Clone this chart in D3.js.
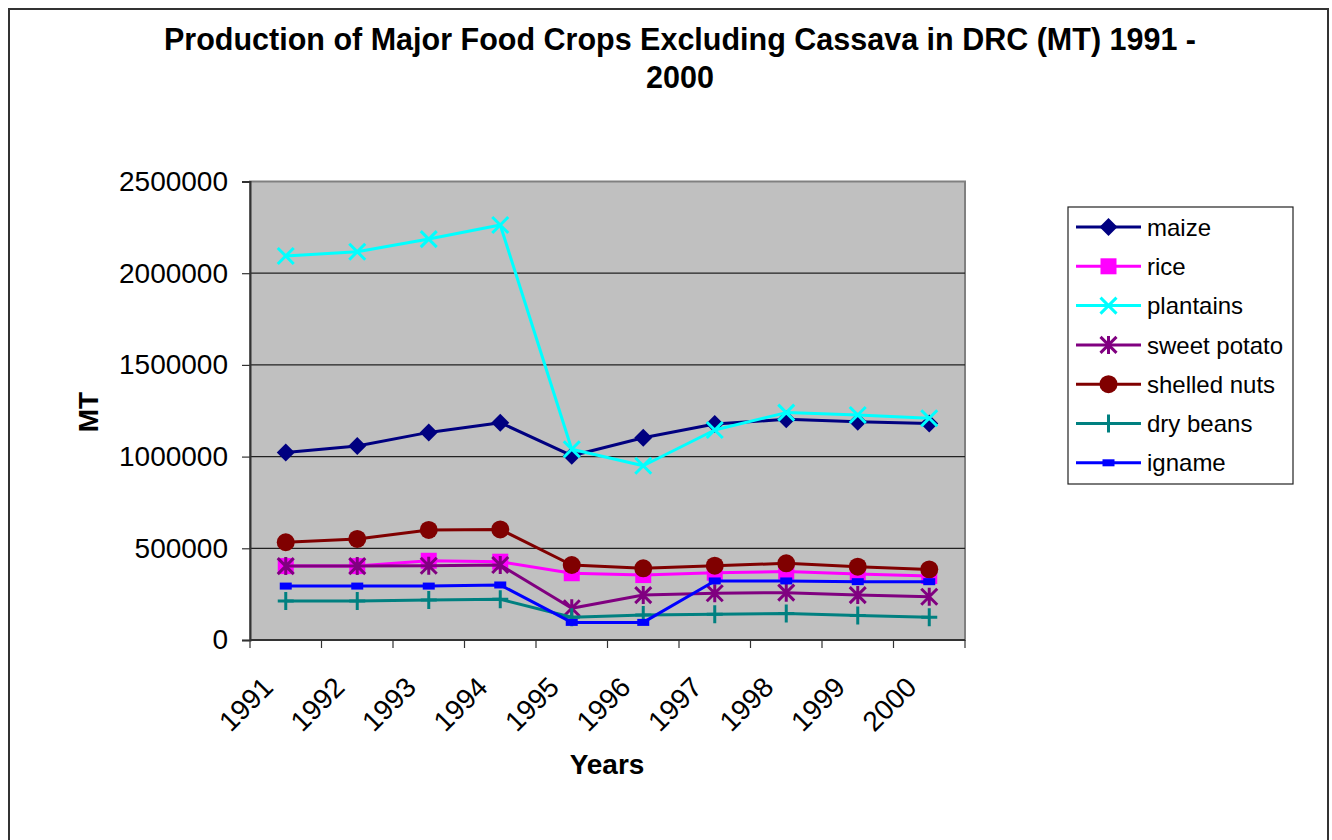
<!DOCTYPE html>
<html>
<head>
<meta charset="utf-8">
<script src="https://cdn.jsdelivr.net/npm/d3@7"></script>
<style>
  html, body { margin: 0; padding: 0; background: #fff; }
  svg { display: block; font-family: "Liberation Sans", Arial, sans-serif; }
</style>
</head>
<body>
<svg id="chart" width="1332" height="840"></svg>
<script>
// Production (MT) of major food crops in the DRC, 1991-2000
const years = ["1991", "1992", "1993", "1994", "1995", "1996", "1997", "1998", "1999", "2000"];
const maize       = [1023000, 1058000, 1132000, 1185000, 1005000, 1103000, 1178000, 1203000, 1190000, 1181000];
const rice        = [403000, 403000, 432000, 427000, 364000, 354000, 367000, 373000, 360000, 349000];
const plantains   = [2094000, 2117000, 2186000, 2263000, 1040000, 950000, 1145000, 1240000, 1227000, 1209000];
const sweetPotato = [403000, 403000, 405000, 409000, 173000, 245000, 255000, 258000, 245000, 236000];
const shelledNuts = [533000, 551000, 600000, 603000, 409000, 391000, 405000, 418000, 400000, 385000];
const dryBeans    = [213000, 213000, 218000, 222000, 124000, 136000, 140000, 145000, 133000, 124000];
const igname      = [294000, 294000, 294000, 300000, 96000, 96000, 322000, 322000, 318000, 318000];
const yTicks = [0, 500000, 1000000, 1500000, 2000000, 2500000];

const seriesNames  = ["maize", "rice", "plantains", "sweet potato", "shelled nuts", "dry beans", "igname"];
const seriesValues = [maize, rice, plantains, sweetPotato, shelledNuts, dryBeans, igname];
const seriesColors = ["#000080", "#FF00FF", "#00FFFF", "#800080", "#800000", "#008080", "#0000FF"];
const seriesMarks  = ["diamond", "square", "x", "asterisk", "circle", "plus", "dash"];

const series = seriesNames.map((name, i) => ({
  name, values: seriesValues[i], color: seriesColors[i], mark: seriesMarks[i]
}));

const svg = d3.select("#chart");

// outer chart frame
svg.append("rect")
  .attr("x", 9).attr("y", 9).attr("width", 1319).attr("height", 845)
  .attr("fill", "#fff").attr("stroke", "#333").attr("stroke-width", 2);

// title
const title = svg.append("text")
  .attr("text-anchor", "middle")
  .attr("font-weight", "bold")
  .attr("font-size", 30.5)
  .attr("fill", "#000");
title.append("tspan").attr("x", 680).attr("y", 50)
  .text("Production of Major Food Crops Excluding Cassava in DRC (MT) 1991 -");
title.append("tspan").attr("x", 680).attr("y", 88).text("2000");

const plot = { left: 250, right: 965, top: 181.5, bottom: 640 };

const x = d3.scaleBand().domain(years).range([plot.left, plot.right]);
const y = d3.scaleLinear().domain([0, 2500000]).range([plot.bottom, plot.top]);

// plot background
svg.append("rect")
  .attr("x", plot.left).attr("y", plot.top)
  .attr("width", plot.right - plot.left).attr("height", plot.bottom - plot.top)
  .attr("fill", "#C0C0C0").attr("stroke", "#808080").attr("stroke-width", 2);

// horizontal gridlines
svg.append("g").selectAll("line")
  .data(yTicks.filter(v => v > 0 && v < 2500000))
  .join("line")
  .attr("x1", plot.left).attr("x2", plot.right)
  .attr("y1", d => y(d)).attr("y2", d => y(d))
  .attr("stroke", "#222").attr("stroke-width", 1.2);

// y axis
const yAxis = svg.append("g")
  .attr("transform", `translate(${plot.left},0)`)
  .call(d3.axisLeft(y).tickValues(yTicks).tickFormat(d3.format("d")).tickSize(8).tickPadding(14));
yAxis.select(".domain").attr("stroke", "#333").attr("stroke-width", 2);
yAxis.selectAll(".tick line").attr("stroke", "#333").attr("stroke-width", 1.2);
yAxis.selectAll(".tick text")
  .attr("font-size", 28).attr("fill", "#000")
  .attr("font-family", "'Liberation Sans', Arial, sans-serif");

// x axis line and category boundary ticks
svg.append("line")
  .attr("x1", plot.left).attr("x2", plot.right)
  .attr("y1", plot.bottom).attr("y2", plot.bottom)
  .attr("stroke", "#333").attr("stroke-width", 2);
const boundaries = years.map(d => x(d)).concat([x(years[years.length - 1]) + x.bandwidth()]);
svg.append("g").selectAll("line")
  .data(boundaries)
  .join("line")
  .attr("x1", d => d).attr("x2", d => d)
  .attr("y1", plot.bottom).attr("y2", plot.bottom + 8)
  .attr("stroke", "#333").attr("stroke-width", 1.2);

// x axis labels, rotated
const xAxis = svg.append("g")
  .attr("transform", `translate(0,${plot.bottom})`)
  .call(d3.axisBottom(x).tickSize(0).tickPadding(0));
xAxis.select(".domain").remove();
xAxis.selectAll(".tick text")
  .attr("font-size", 28).attr("fill", "#000")
  .attr("font-family", "'Liberation Sans', Arial, sans-serif")
  .attr("text-anchor", "end")
  .attr("dy", 0)
  .attr("transform", "translate(-11,49) rotate(-45)");

// axis titles
svg.append("text")
  .attr("x", 607).attr("y", 774)
  .attr("text-anchor", "middle").attr("font-weight", "bold").attr("font-size", 28)
  .text("Years");
svg.append("text")
  .attr("transform", "translate(98,412) rotate(-90)")
  .attr("text-anchor", "middle").attr("font-weight", "bold").attr("font-size", 28)
  .text("MT");

// marker shapes
function drawMarker(g, mark, color, cx, cy) {
  const s = 8;
  switch (mark) {
    case "diamond":
      g.append("path").attr("d", `M${cx},${cy - s - 1}L${cx + s + 1},${cy}L${cx},${cy + s + 1}L${cx - s - 1},${cy}Z`)
        .attr("fill", color);
      break;
    case "square":
      g.append("rect").attr("x", cx - s).attr("y", cy - s).attr("width", 2 * s).attr("height", 2 * s)
        .attr("fill", color);
      break;
    case "circle":
      g.append("circle").attr("cx", cx).attr("cy", cy).attr("r", s + 1).attr("fill", color);
      break;
    case "x":
      g.append("path").attr("d", `M${cx - s},${cy - s}L${cx + s},${cy + s}M${cx - s},${cy + s}L${cx + s},${cy - s}`)
        .attr("stroke", color).attr("stroke-width", 3).attr("fill", "none");
      break;
    case "asterisk":
      g.append("path").attr("d", `M${cx - s},${cy - s}L${cx + s},${cy + s}M${cx - s},${cy + s}L${cx + s},${cy - s}M${cx},${cy - s - 1}L${cx},${cy + s + 1}`)
        .attr("stroke", color).attr("stroke-width", 3).attr("fill", "none");
      break;
    case "plus":
      g.append("path").attr("d", `M${cx},${cy - s - 1}L${cx},${cy + s + 1}M${cx - s},${cy}L${cx + s},${cy}`)
        .attr("stroke", color).attr("stroke-width", 3).attr("fill", "none");
      break;
    case "dash":
      g.append("rect").attr("x", cx - 6).attr("y", cy - 3.5).attr("width", 12).attr("height", 7)
        .attr("fill", color);
      break;
  }
}

const line = d3.line()
  .x((d, i) => x(years[i]) + x.bandwidth() / 2)
  .y(d => y(d));

const seriesG = svg.append("g");
series.forEach(s => {
  const g = seriesG.append("g");
  g.append("path")
    .attr("d", line(s.values))
    .attr("fill", "none").attr("stroke", s.color).attr("stroke-width", 3)
    .attr("stroke-linejoin", "round");
  s.values.forEach((v, i) => drawMarker(g, s.mark, s.color, x(years[i]) + x.bandwidth() / 2, y(v)));
});

// legend
const legend = { x: 1068, y: 207, w: 225, h: 277, row0: 227, step: 39.3 };
svg.append("rect")
  .attr("x", legend.x).attr("y", legend.y).attr("width", legend.w).attr("height", legend.h)
  .attr("fill", "#fff").attr("stroke", "#222").attr("stroke-width", 1.2);
series.forEach((s, i) => {
  const ly = legend.row0 + i * legend.step;
  const g = svg.append("g");
  g.append("line").attr("x1", 1076).attr("x2", 1141).attr("y1", ly).attr("y2", ly)
    .attr("stroke", s.color).attr("stroke-width", 3);
  drawMarker(g, s.mark, s.color, 1108.5, ly);
  g.append("text").attr("x", 1147).attr("y", ly).attr("dy", "0.36em")
    .attr("font-size", 24).attr("fill", "#000").text(s.name);
});
</script>
</body>
</html>
